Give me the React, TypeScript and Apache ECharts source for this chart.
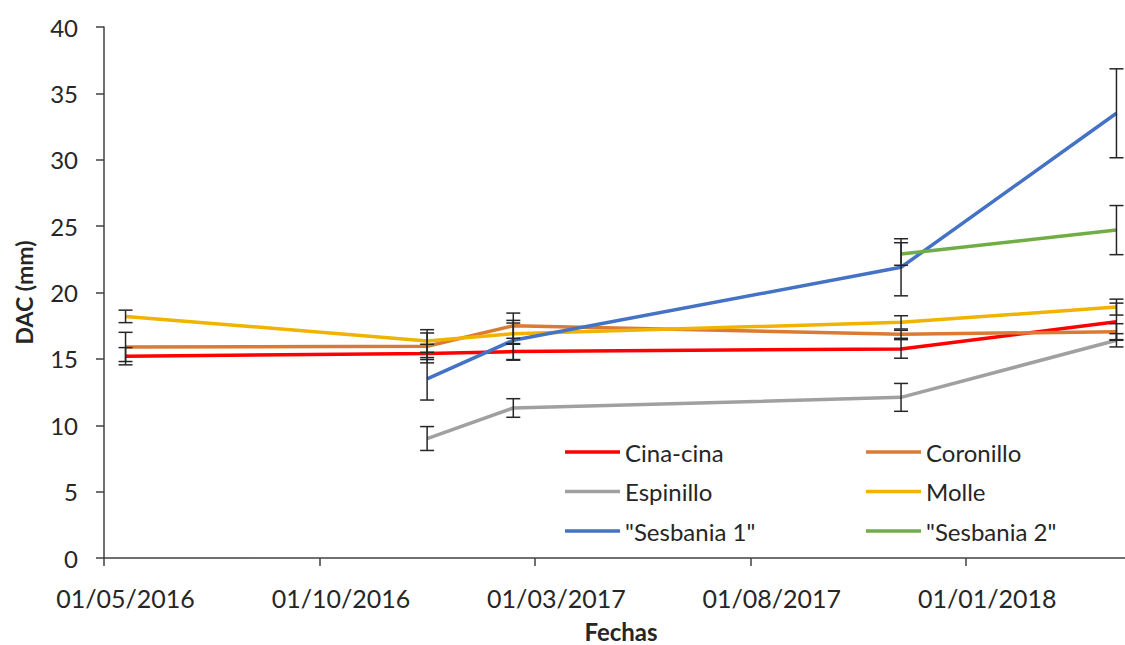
import React, { useEffect, useRef } from "react";
import * as echarts from "echarts";

// Month categories of the date axis (base unit: month)
const months = [
  "01/05/2016", "01/06/2016", "01/07/2016", "01/08/2016", "01/09/2016",
  "01/10/2016", "01/11/2016", "01/12/2016", "01/01/2017", "01/02/2017",
  "01/03/2017", "01/04/2017", "01/05/2017", "01/06/2017", "01/07/2017",
  "01/08/2017", "01/09/2017", "01/10/2017", "01/11/2017", "01/12/2017",
  "01/01/2018", "01/02/2018", "01/03/2018", "01/04/2018",
];

// Sampling dates
const sampleMonths = ["01/05/2016", "01/12/2016", "01/02/2017", "01/11/2017", "01/04/2018"];

const seriesNames = ["Cina-cina", "Coronillo", "Espinillo", "Molle", '"Sesbania 1"', '"Sesbania 2"'];
const seriesColors = ["#FF0000", "#DA7A34", "#A0A0A0", "#EFB300", "#4472C4", "#70AD47"];

const cinaCina = [15.2, 15.4, 15.55, 15.75, 17.8];
const cinaCinaErr = [0.65, 0.7, 0.6, 0.7, 1.4];
const coronillo = [15.9, 15.95, 17.5, 16.85, 17.05];
const coronilloErr = [1.1, 1.0, 0.95, 0.3, 0.6];
const espinillo = [null, 9.0, 11.3, 12.1, 16.4];
const espinilloErr = [null, 0.9, 0.7, 1.05, 0.5];
const molle = [18.2, 16.35, 16.9, 17.75, 18.9];
const molleErr = [0.47, 0.85, 0.8, 0.5, 0.6];
const sesbania1 = [null, 13.5, 16.4, 21.9, 33.5];
const sesbania1Err = [null, 1.6, 1.5, 2.15, 3.35];
const sesbania2 = [null, null, null, 22.9, 24.7];
const sesbania2Err = [null, null, null, 0.85, 1.85];

const yTicks = { min: 0, max: 40, interval: 5 };

const allValues = [cinaCina, coronillo, espinillo, molle, sesbania1, sesbania2];
const allErrors = [cinaCinaErr, coronilloErr, espinilloErr, molleErr, sesbania1Err, sesbania2Err];

const FONT = "Lato, 'Noto Sans', sans-serif";
const TEXT = "#262626";

export default function App() {
  const ref = useRef<HTMLDivElement>(null);

  useEffect(() => {
    if (!ref.current) return;
    const chart = echarts.init(ref.current, null, { renderer: "svg" });

    const idx = sampleMonths.map((m) => months.indexOf(m));

    const lineSeries = allValues.map((vals, s) => {
      const data: (number | null)[] = months.map(() => null);
      vals.forEach((v, i) => {
        if (v != null) data[idx[i]] = v;
      });
      return {
        type: "line",
        name: seriesNames[s],
        data,
        connectNulls: true,
        symbol: "none",
        showSymbol: false,
        color: seriesColors[s],
        itemStyle: { color: seriesColors[s] },
        lineStyle: { color: seriesColors[s], width: 3.5 },
        z: 2,
      };
    });

    const errData: number[][] = [];
    allValues.forEach((vals, s) => {
      vals.forEach((v, i) => {
        const e = allErrors[s][i];
        if (v != null && e != null) errData.push([idx[i], v - e, v + e]);
      });
    });

    const errSeries = {
      type: "custom",
      name: "err",
      data: errData,
      encode: { x: 0, y: [1, 2] },
      z: 5,
      silent: true,
      renderItem: (params: any, api: any) => {
        const x = api.value(0);
        const lo = api.coord([x, api.value(1)]);
        const hi = api.coord([x, api.value(2)]);
        const w = 7;
        const st = { stroke: "#262626", lineWidth: 1.5 };
        return {
          type: "group",
          children: [
            { type: "line", shape: { x1: lo[0], y1: lo[1], x2: hi[0], y2: hi[1] }, style: st },
            { type: "line", shape: { x1: lo[0] - w, y1: lo[1], x2: lo[0] + w, y2: lo[1] }, style: st },
            { type: "line", shape: { x1: hi[0] - w, y1: hi[1], x2: hi[0] + w, y2: hi[1] }, style: st },
          ],
        };
      },
    };

    const legendCommon = {
      orient: "vertical",
      icon: "rect",
      itemWidth: 55,
      itemHeight: 3.5,
      itemGap: 15.5,
      padding: 0,
      textStyle: { fontFamily: FONT, fontSize: 24, lineHeight: 20, color: TEXT },
      selectedMode: false,
    };

    chart.setOption({
      animation: false,
      backgroundColor: "#ffffff",
      textStyle: { fontFamily: FONT },
      grid: { left: 104, top: 27, width: 1034, height: 531, outerBoundsMode: "none", containLabel: false },
      legend: [
        { ...legendCommon, left: 565, top: 440, data: [seriesNames[0], seriesNames[2], seriesNames[4]] },
        { ...legendCommon, left: 866, top: 440, data: [seriesNames[1], seriesNames[3], seriesNames[5]] },
      ],
      xAxis: {
        type: "category",
        data: months,
        boundaryGap: true,
        name: "Fechas",
        nameLocation: "middle",
        nameGap: 62,
        nameTextStyle: { fontFamily: FONT, fontSize: 24, lineHeight: 22, fontWeight: "bold", color: TEXT },
        axisLine: { show: true, lineStyle: { color: "#404040", width: 1.5 } },
        axisTick: { show: true, interval: 4, length: 8, lineStyle: { color: "#404040", width: 1.5 } },
        axisLabel: { interval: 4, margin: 27, fontFamily: FONT, fontSize: 25, color: TEXT },
        splitLine: { show: false },
      },
      yAxis: {
        type: "value",
        min: yTicks.min,
        max: yTicks.max,
        interval: yTicks.interval,
        name: "DAC (mm)",
        nameLocation: "middle",
        nameGap: 69,
        nameTextStyle: { fontFamily: FONT, fontSize: 23, fontWeight: "bold", color: TEXT },
        axisLine: { show: true, lineStyle: { color: "#404040", width: 1.5 } },
        axisTick: { show: true, length: 8, lineStyle: { color: "#404040", width: 1.5 } },
        axisLabel: { margin: 26, fontFamily: FONT, fontSize: 24, color: TEXT },
        splitLine: { show: false },
      },
      series: [...lineSeries, errSeries],
    });

    return () => chart.dispose();
  }, []);

  return (
    <div
      ref={ref}
      style={{ position: "absolute", left: 0, top: 0, width: 1125, height: 645, background: "#fff" }}
    />
  );
}
